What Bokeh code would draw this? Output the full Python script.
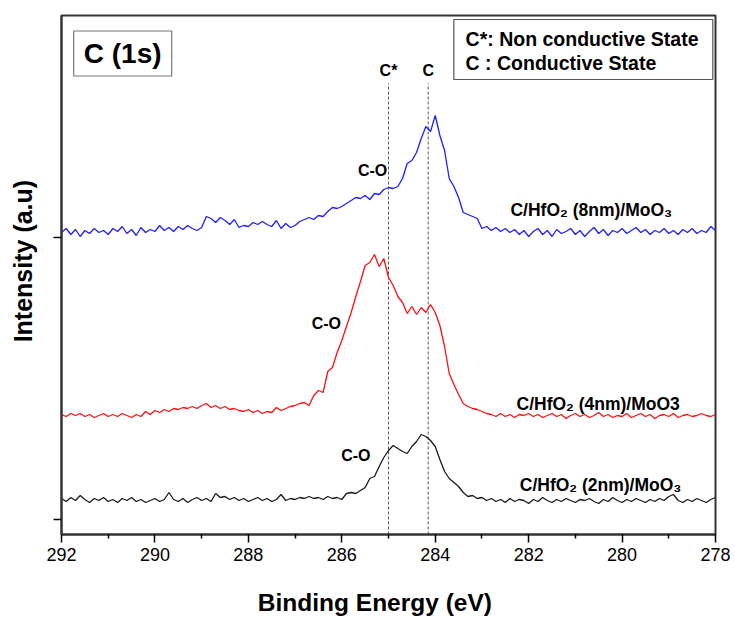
from bokeh.plotting import figure
from bokeh.models import Range1d, FixedTicker
from bokeh.embed import file_html
from bokeh.resources import INLINE
from bokeh.core.properties import value

# ---------------- data ----------------
energy = [round(292.0 - 0.1 * i, 1) for i in range(141)]  # binding energy grid (eV)

# C/HfO2 (8nm)/MoO3  (blue)
blue_8nm = [
    302, 306, 300, 305, 298, 304, 301, 306, 302, 304, 300, 306, 303, 308, 301, 305,
    299, 307, 302, 305, 303, 309, 304, 307, 303, 308, 305, 309, 306, 304, 307,
    318, 316, 312, 317, 314, 310, 315, 307, 309, 308, 312, 310, 313, 310, 308, 314,
    306, 311, 307, 309,
    313, 315, 317, 315, 319, 318, 323, 327, 326, 328, 331, 334, 337, 336, 339, 335,
    341, 340, 345, 347,
    346, 348, 356, 371, 374, 382, 396, 408, 403, 419, 399, 384, 356, 348, 337, 322,
    320, 318, 316, 306,
    308, 304, 307, 303, 306, 302, 305, 300, 304, 298, 303, 306, 300, 304, 298, 305,
    301, 303, 306, 300, 304, 298, 303, 307, 301, 305, 299, 304, 302, 306, 301, 304,
    307, 302, 305, 300, 304, 302, 306, 301, 304, 300, 305, 302, 306, 301, 304, 302,
    308, 304,
]

# C/HfO2 (4nm)/MoO3  (red)
red_4nm = [
    120, 118, 121, 119, 121, 118, 120, 117, 119, 121, 118, 120, 118, 121, 119, 117,
    120, 118, 123, 120, 124, 122, 125, 123, 126, 125, 127, 126, 128, 126, 129,
    131, 127, 129, 126, 128, 125, 126, 124, 123, 125, 122, 124, 121, 123, 122, 127,
    124, 126, 128, 129,
    131, 132, 129, 139, 144, 142, 163, 167, 182, 194, 208, 222, 238, 253, 269, 272,
    280, 268, 276, 257,
    249, 238, 232, 221, 228, 220, 227, 222, 230, 222, 209, 188, 161, 150, 140, 131,
    128, 126, 125, 123,
    121, 120, 118, 121, 118, 120, 117, 120, 119, 121, 118, 120, 117, 119, 121, 118,
    120, 116, 119, 121, 118, 120, 117, 119, 122, 118, 120, 117, 119, 118, 121, 117,
    119, 121, 118, 120, 116, 119, 120, 118, 121, 117, 119, 120, 118, 119, 121, 119,
    118, 120,
]

# C/HfO2 (2nm)/MoO3  (black)
black_2nm = [
    36, 33, 37, 34, 39, 35, 32, 36, 34, 37, 33, 35, 32, 36, 34, 37,
    33, 35, 32, 34, 36, 33, 35, 42, 35, 33, 36, 32, 35, 37, 34,
    36, 33, 41, 37, 38, 35, 37, 34, 36, 33, 35, 37, 34, 36, 33, 35,
    40, 34, 36, 35,
    37, 36, 38, 36, 37, 35, 38, 36, 37, 35, 41, 42, 41, 44, 47, 56,
    58, 68, 77, 84,
    89, 86, 83, 81, 88, 93, 100, 98, 94, 88, 75, 63, 56, 52, 48, 42,
    38, 39, 36, 37,
    34, 36, 33, 35, 32, 36, 33, 35, 34, 31, 35, 33, 37, 34, 32, 35,
    33, 36, 34, 32, 35, 34, 36, 33, 31, 35, 33, 37, 34, 32, 35, 33,
    36, 34, 32, 35, 33, 36, 34, 38, 40, 34, 32, 35, 33, 36, 34, 32,
    35, 37,
]

x_ticks = [292, 290, 288, 286, 284, 282, 280, 278]
x_minor = [291, 289, 287, 285, 283, 281, 279]
y_ticks = [15, 297]

ref_energies = [285.0, 284.15]
ref_labels = ["C*", "C"]

co_x = [285.34, 286.33, 285.70]
co_y = [364, 211, 79]

series_names = ["C/HfO\u2082 (8nm)/MoO\u2083", "C/HfO\u2082 (4nm)/MoO3", "C/HfO\u2082 (2nm)/MoO\u2083"]
series_lx = [282.39, 282.26, 282.19]
series_ly = [325, 131, 50]

legend_lines = ["C*: Non conductive State", "C : Conductive State"]

FONT = value("Liberation Sans")
NB = "\u00a0"

# ---------------- figure ----------------
p = figure(width=735, height=619, x_range=Range1d(292, 278), y_range=Range1d(0, 519),
           output_backend="svg", toolbar_location=None,
           min_border_left=61, min_border_right=20, min_border_top=15, min_border_bottom=85)
p.xgrid.visible = False
p.ygrid.visible = False
p.outline_line_color = "#333333"
p.outline_line_width = 2
p.background_fill_color = "white"
p.border_fill_color = "white"

xa = p.xaxis[0]
xa.ticker = FixedTicker(ticks=x_ticks, minor_ticks=x_minor)
xa.major_tick_out = 8
xa.major_tick_in = 0
xa.minor_tick_out = 4
xa.minor_tick_in = 0
xa.axis_line_width = 2
xa.axis_line_color = "#333333"
xa.major_tick_line_width = 1.5
xa.minor_tick_line_width = 1.5
xa.major_label_text_font = "Liberation Sans"
xa.major_label_text_font_size = "18px"
xa.major_label_text_color = "black"
xa.major_label_standoff = 5
xa.axis_label = "Binding Energy (eV)" + NB * 4
xa.axis_label_text_font = "Liberation Sans"
xa.axis_label_text_font_style = "bold"
xa.axis_label_text_font_size = "24.5px"
xa.axis_label_text_color = "black"
xa.axis_label_standoff = 25

ya = p.yaxis[0]
ya.ticker = FixedTicker(ticks=y_ticks, minor_ticks=[])
ya.major_label_overrides = {t: "" for t in y_ticks}
ya.major_tick_out = 8
ya.major_tick_in = 0
ya.minor_tick_out = 0
ya.minor_tick_in = 0
ya.axis_line_width = 2
ya.axis_line_color = "#333333"
ya.major_tick_line_width = 1.5
ya.axis_label = NB * 4 + "Intensity (a.u)"
ya.axis_label_text_font = "Liberation Sans"
ya.axis_label_text_font_style = "bold"
ya.axis_label_text_font_size = "25px"
ya.axis_label_text_color = "black"
ya.axis_label_standoff = 17

# reference dashed lines
p.segment(x0=ref_energies, y0=[0, 0], x1=ref_energies, y1=[451, 451],
          line_color="#555555", line_width=1, line_dash="3 2")
p.text(x=ref_energies, y=[464, 464], text=ref_labels, text_font=FONT, text_font_style="bold",
       text_font_size="16px", text_align="center", text_baseline="middle", text_color="black")

# spectra
p.line(energy, blue_8nm, line_color="#1f1fff", line_width=1.3)
p.line(energy, red_4nm, line_color="#ff1010", line_width=1.3)
p.line(energy, black_2nm, line_color="#1a1a1a", line_width=1.3)

# C-O labels
p.text(x=co_x, y=co_y, text=["C-O"] * 3, text_font=FONT, text_font_style="bold",
       text_font_size="16px", text_align="center", text_baseline="middle", text_color="black")

# series labels
p.text(x=series_lx, y=series_ly, text=series_names, text_font=FONT, text_font_style="bold",
       text_font_size="17.5px", text_align="left", text_baseline="middle", text_color="black")

# C (1s) box
p.rect(x=[290.69], y=[481], width=98, height=45, width_units="screen", height_units="screen",
       fill_color=None, line_color="#777777", line_width=1.2)
p.text(x=[290.69], y=[481], text=["C (1s)"], text_font=FONT, text_font_style="bold",
       text_font_size="28px", text_align="center", text_baseline="middle", text_color="black")

# state legend box
p.rect(x=[280.83], y=[485], width=259, height=60, width_units="screen", height_units="screen",
       fill_color=None, line_color="#555555", line_width=1.2)
p.text(x=[283.35, 283.35], y=[496, 472], text=legend_lines, text_font=FONT, text_font_style="bold",
       text_font_size="19.5px", text_align="left", text_baseline="middle", text_color="black")

open("out.html", "w").write(file_html(p, INLINE))
